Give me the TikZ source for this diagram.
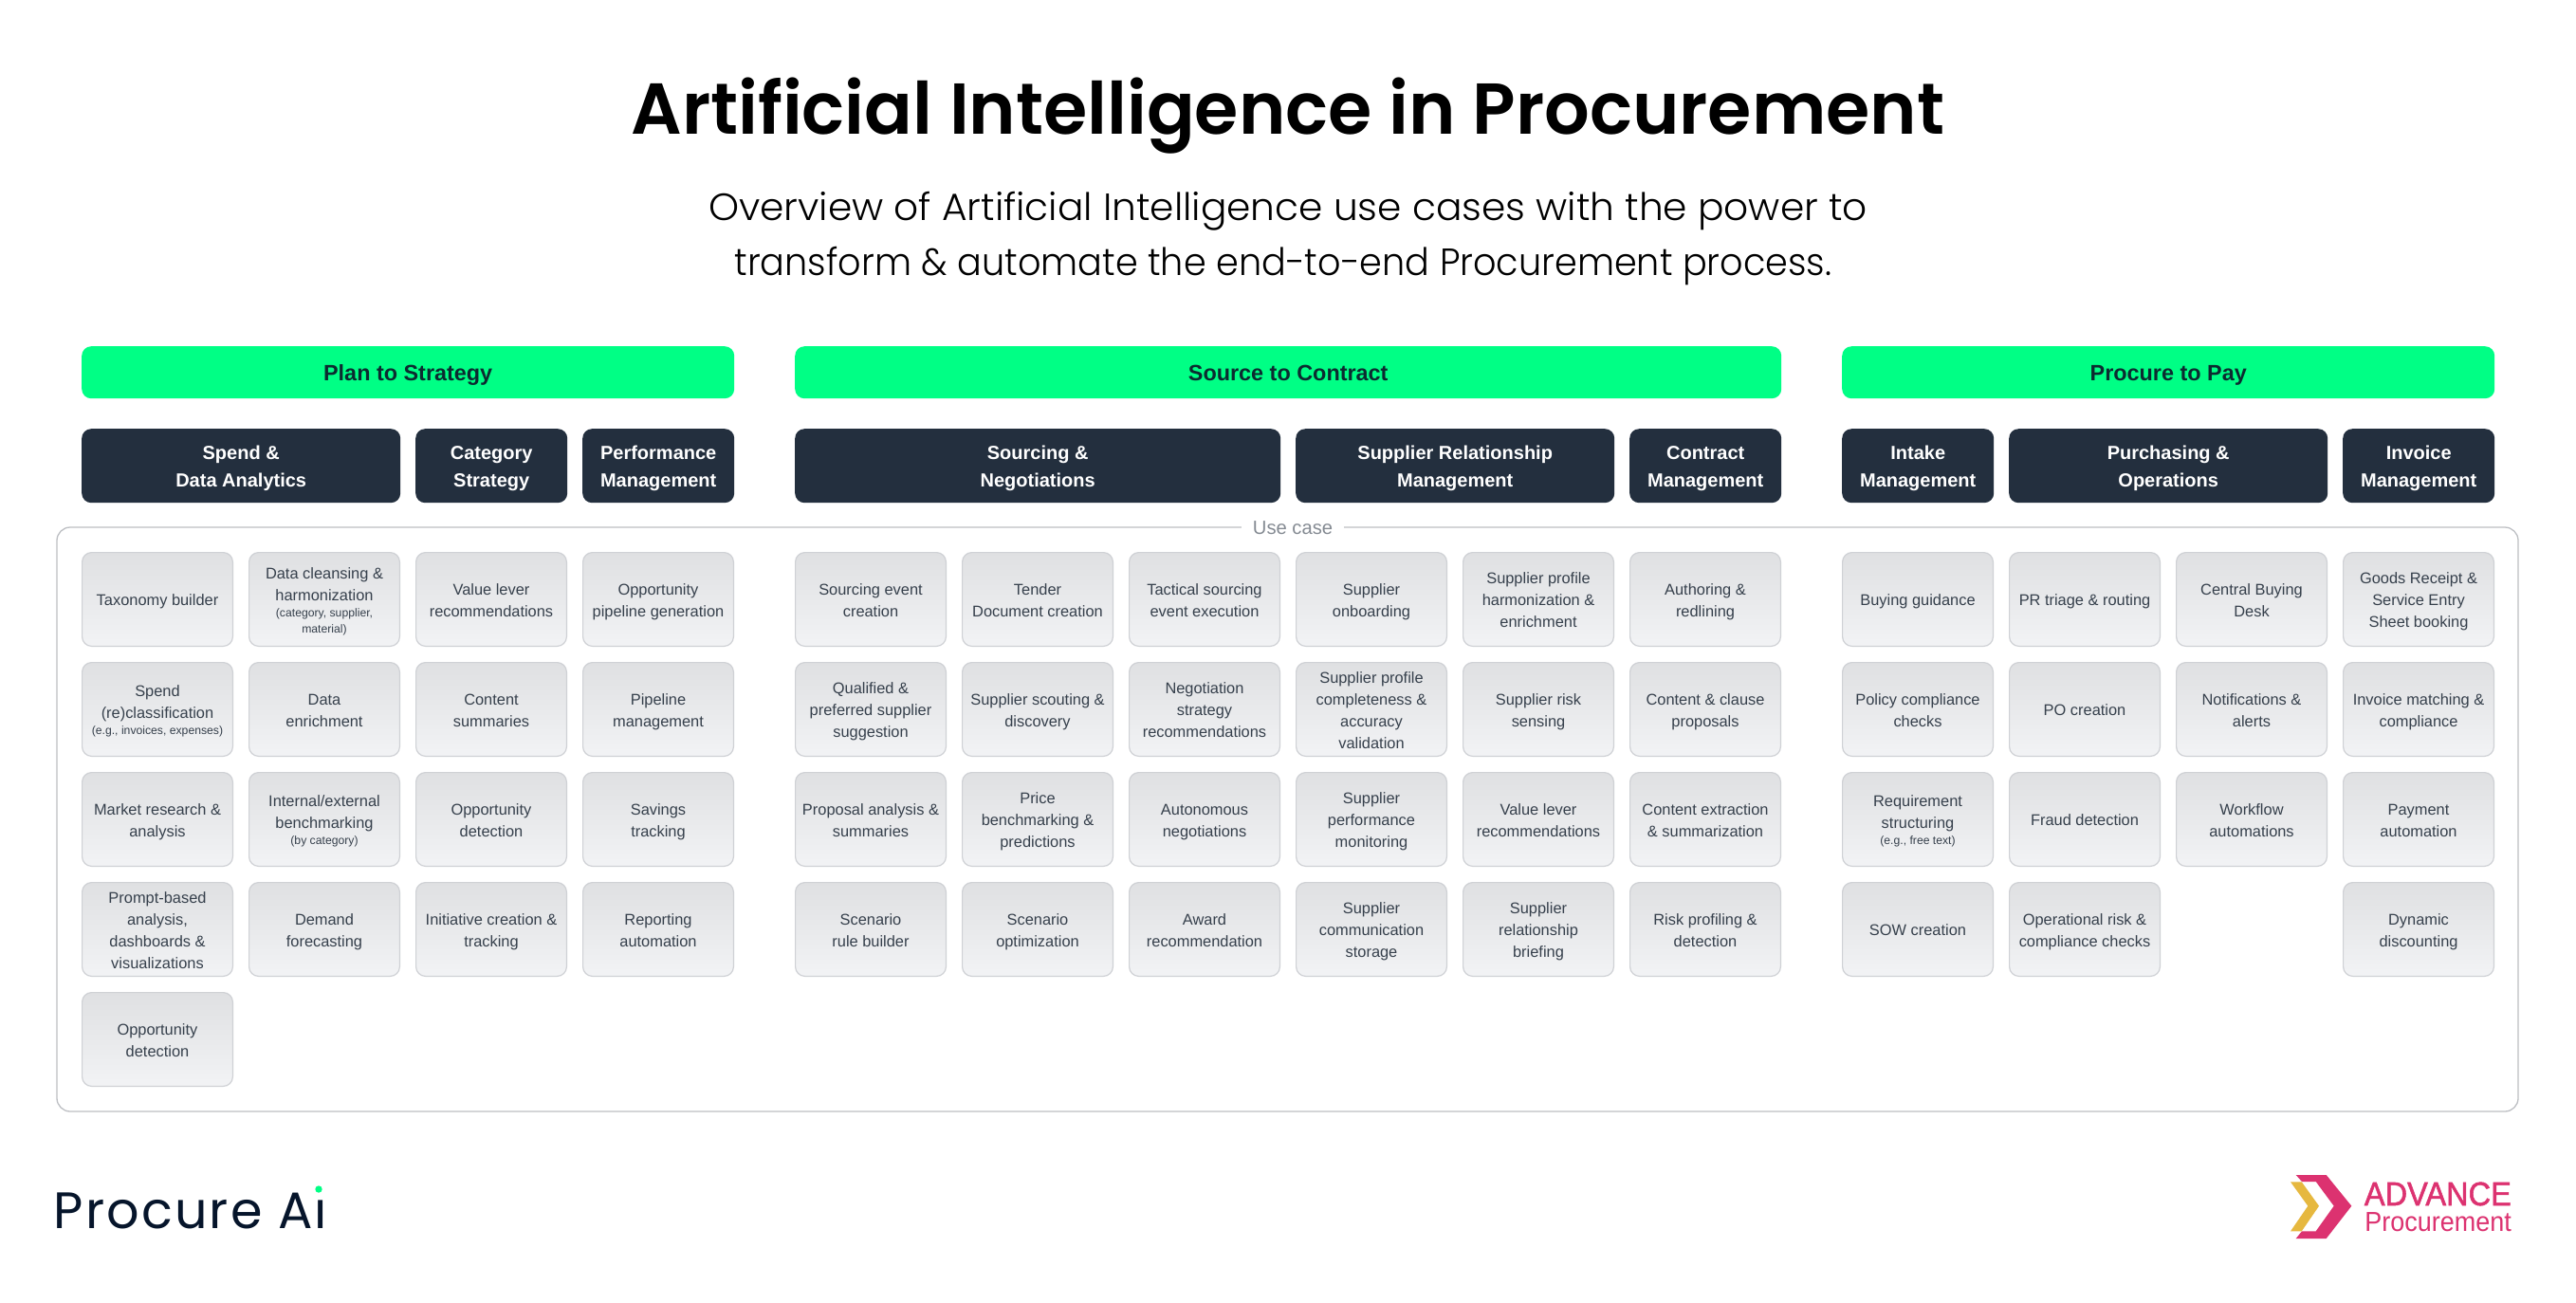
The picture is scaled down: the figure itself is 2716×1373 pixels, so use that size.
\documentclass[tikz,border=0pt]{standalone}
\usepackage{fontspec}
\setmainfont{Liberation Sans}
\newfontfamily\titlefont[FakeStretch=0.985]{Poppins SemiBold}
\newfontfamily\subfonta[FakeStretch=1.018]{Poppins Light}
\newfontfamily\subfontb[FakeStretch=0.955]{Poppins Light}
\newfontfamily\logofont[LetterSpace=4]{Poppins}
\newfontfamily\advbold[FakeBold=1.5,FakeStretch=0.93]{Liberation Sans}
\newfontfamily\advreg[FakeStretch=0.93]{Liberation Sans}
\definecolor{navy}{HTML}{232F3E}
\definecolor{mint}{HTML}{00FF85}
\definecolor{phasetext}{HTML}{0C2B30}
\definecolor{celltext}{HTML}{36404C}
\definecolor{cellline}{HTML}{CFD1D5}
\definecolor{celltop}{HTML}{DFE0E2}
\definecolor{cellbot}{HTML}{F2F3F5}
\definecolor{boxline}{HTML}{BDBFC3}
\definecolor{labelgrey}{HTML}{858B93}
\definecolor{pinklogo}{HTML}{DC3270}
\definecolor{yellowlogo}{HTML}{E6B83F}
\definecolor{logonavy}{HTML}{06152B}
\tikzset{
  phase/.style={anchor=north west,fill=mint,rounded corners=10pt,minimum height=55pt,inner sep=0pt,text=phasetext,font=\bfseries\fontsize{23.4}{29}\selectfont},
  group/.style={anchor=north west,fill=navy,rounded corners=10pt,minimum height=78pt,inner sep=0pt,text=white,align=center,font=\bfseries\fontsize{20}{29}\selectfont},
  cell/.style={anchor=north west,xshift=0.6pt,yshift=-0.6pt,outer sep=0pt,rounded corners=10pt,draw=cellline,line width=1.2pt,top color=celltop,bottom color=cellbot,minimum width=158.8pt,minimum height=98.8pt,inner sep=0pt,align=center,text=celltext,font=\fontsize{16.4}{23}\selectfont},
  plain/.style={inner sep=0pt,anchor=base}
}
\newcommand\uc[4]{\node[cell] (#1) at (#2,#3) {\rule{0pt}{18pt}#4\rule[-5pt]{0pt}{5pt}};}
\newcommand\gp[4]{\node[group,minimum width=#3pt] (#1) at (#2,452) {\rule{0pt}{21pt}#4\rule[-5.4pt]{0pt}{5.4pt}};}
\newcommand\ph[4]{\node[phase,minimum width=#3pt] (#1) at (#2,365) {\rule{0pt}{23pt}#4\rule[-6pt]{0pt}{6pt}};}
\newcommand\sm[1]{{\fontsize{12.2}{17}\selectfont #1}}
\begin{document}
\begin{tikzpicture}[x=1pt,y=-1pt]
\fill[white] (0,0) rectangle (2716,1373);
\useasboundingbox (0,0) rectangle (2716,1373);
\node[plain,font=\titlefont\fontsize{76}{90}\selectfont,text=black] (title) at (1358,141) {Artificial Intelligence in Procurement};
\node[plain,font=\subfonta\fontsize{40}{58}\selectfont,text=black] (sub1) at (1358,232) {Overview of Artificial Intelligence use cases with the power to};
\node[plain,font=\subfontb\fontsize{40}{58}\selectfont,text=black] (sub2) at (1353,290) {transform \& automate the end-to-end Procurement process.};
% phases
\ph{p1}{86}{688}{Plan to Strategy}
\ph{p2}{838}{1040}{Source to Contract}
\ph{p3}{1942}{688}{Procure to Pay}
% groups
\gp{g1}{86}{336}{Spend \&\\Data Analytics}
\gp{g2}{438}{160}{Category\\Strategy}
\gp{g3}{614}{160}{Performance\\Management}
\gp{g4}{838}{512}{Sourcing \&\\Negotiations}
\gp{g5}{1366}{336}{Supplier Relationship\\Management}
\gp{g6}{1718}{160}{Contract\\Management}
\gp{g7}{1942}{160}{Intake\\Management}
\gp{g8}{2118}{336}{Purchasing \&\\Operations}
\gp{g9}{2470}{160}{Invoice\\Management}
% container
\node[draw=boxline,line width=1.3pt,rounded corners=14pt,anchor=north west,outer sep=0pt,minimum width=2595pt,minimum height=616pt,inner sep=0pt] (usebox) at (60,556) {};
\node[fill=white,inner xsep=12pt,inner ysep=3pt,text=labelgrey,font=\fontsize{20.2}{24}\selectfont] (uselabel) at (1363,557) {Use case};
% Plan to Strategy
\uc{a1}{86}{582}{Taxonomy builder}
\uc{a2}{86}{698}{Spend\\(re)classification\\[-6pt]\sm{(e.g., invoices, expenses)}}
\uc{a3}{86}{814}{Market research \&\\analysis}
\uc{a4}{86}{930}{Prompt-based\\analysis,\\dashboards \&\\visualizations}
\uc{a5}{86}{1046}{Opportunity\\detection}
\uc{b1}{262}{582}{Data cleansing \&\\harmonization\\[-6pt]\sm{(category, supplier,}\\[-6pt]\sm{material)}}
\uc{b2}{262}{698}{Data\\enrichment}
\uc{b3}{262}{814}{Internal/external\\benchmarking\\[-6pt]\sm{(by category)}}
\uc{b4}{262}{930}{Demand\\forecasting}
\uc{c1}{438}{582}{Value lever\\recommendations}
\uc{c2}{438}{698}{Content\\summaries}
\uc{c3}{438}{814}{Opportunity\\detection}
\uc{c4}{438}{930}{Initiative creation \&\\tracking}
\uc{d1}{614}{582}{Opportunity\\pipeline generation}
\uc{d2}{614}{698}{Pipeline\\management}
\uc{d3}{614}{814}{Savings\\tracking}
\uc{d4}{614}{930}{Reporting\\automation}
% Source to Contract
\uc{e1}{838}{582}{Sourcing event\\creation}
\uc{e2}{838}{698}{Qualified \&\\preferred supplier\\suggestion}
\uc{e3}{838}{814}{Proposal analysis \&\\summaries}
\uc{e4}{838}{930}{Scenario\\rule builder}
\uc{f1}{1014}{582}{Tender\\Document creation}
\uc{f2}{1014}{698}{Supplier scouting \&\\discovery}
\uc{f3}{1014}{814}{Price\\benchmarking \&\\predictions}
\uc{f4}{1014}{930}{Scenario\\optimization}
\uc{g11}{1190}{582}{Tactical sourcing\\event execution}
\uc{g12}{1190}{698}{Negotiation\\strategy\\recommendations}
\uc{g13}{1190}{814}{Autonomous\\negotiations}
\uc{g14}{1190}{930}{Award\\recommendation}
\uc{h1}{1366}{582}{Supplier\\onboarding}
\uc{h2}{1366}{698}{Supplier profile\\completeness \&\\accuracy\\validation}
\uc{h3}{1366}{814}{Supplier\\performance\\monitoring}
\uc{h4}{1366}{930}{Supplier\\communication\\storage}
\uc{i1}{1542}{582}{Supplier profile\\harmonization \&\\enrichment}
\uc{i2}{1542}{698}{Supplier risk\\sensing}
\uc{i3}{1542}{814}{Value lever\\recommendations}
\uc{i4}{1542}{930}{Supplier\\relationship\\briefing}
\uc{j1}{1718}{582}{Authoring \&\\redlining}
\uc{j2}{1718}{698}{Content \& clause\\proposals}
\uc{j3}{1718}{814}{Content extraction\\\& summarization}
\uc{j4}{1718}{930}{Risk profiling \&\\detection}
% Procure to Pay
\uc{k1}{1942}{582}{Buying guidance}
\uc{k2}{1942}{698}{Policy compliance\\checks}
\uc{k3}{1942}{814}{Requirement\\structuring\\[-6pt]\sm{(e.g., free text)}}
\uc{k4}{1942}{930}{SOW creation}
\uc{l1}{2118}{582}{PR triage \& routing}
\uc{l2}{2118}{698}{PO creation}
\uc{l3}{2118}{814}{Fraud detection}
\uc{l4}{2118}{930}{Operational risk \&\\compliance checks}
\uc{m1}{2294}{582}{Central Buying\\Desk}
\uc{m2}{2294}{698}{Notifications \&\\alerts}
\uc{m3}{2294}{814}{Workflow\\automations}
\uc{n1}{2470}{582}{Goods Receipt \&\\Service Entry\\Sheet booking}
\uc{n2}{2470}{698}{Invoice matching \&\\compliance}
\uc{n3}{2470}{814}{Payment\\automation}
\uc{n4}{2470}{930}{Dynamic\\discounting}
% Procure Ai logo
\node[inner sep=0pt,anchor=base west,text=logonavy,font=\logofont\fontsize{54}{60}\selectfont] (logoa) at (56.5,1295) {Procure Aı};
\fill[mint] (336,1254) circle (3.7);
% Advance logo
\fill[pinklogo] (2420.7,1239) -- (2452.7,1239) -- (2479.3,1271.7) -- (2452.7,1306) -- (2420.7,1306) -- (2427,1298.3) -- (2441.7,1298.3) -- (2460.7,1271.7) -- (2441.7,1246) -- (2427,1246) -- cycle;
\fill[yellowlogo] (2415,1246.3) -- (2426.7,1246.3) -- (2445,1271.7) -- (2426.7,1298.3) -- (2415,1298.3) -- (2433.3,1271.7) -- cycle;
\node[inner sep=0pt,anchor=base east,text=pinklogo,font=\advbold\fontsize{35}{38}\selectfont] (adv) at (2648,1271) {ADVANCE};
\node[inner sep=0pt,anchor=base east,text=pinklogo,font=\advreg\fontsize{29}{32}\selectfont] (proc) at (2648,1298) {Procurement};
\end{tikzpicture}
\end{document}
